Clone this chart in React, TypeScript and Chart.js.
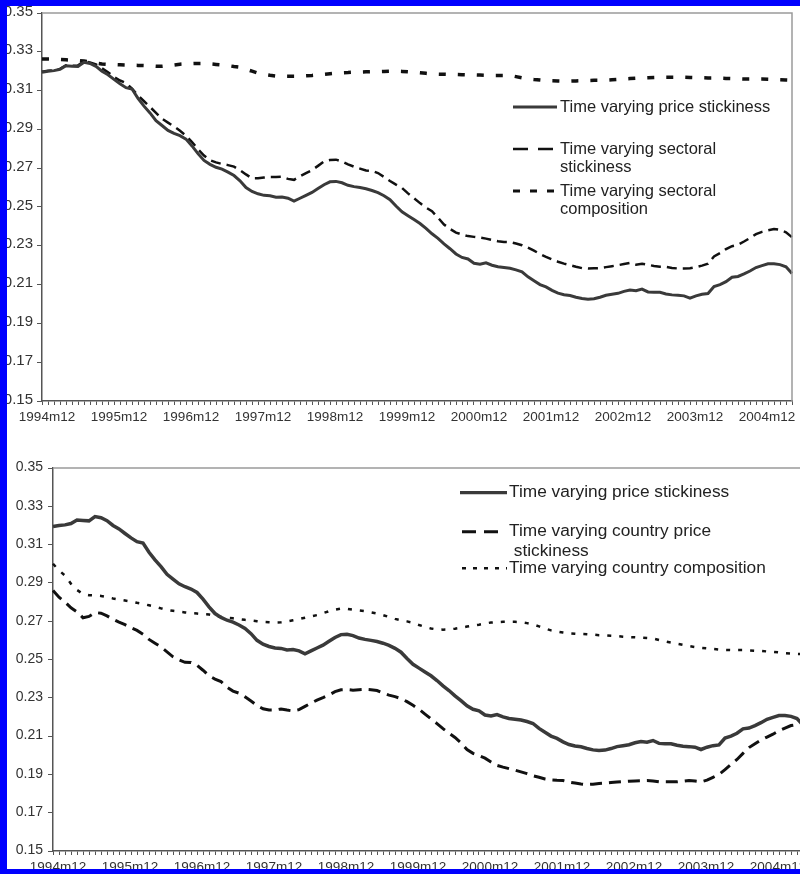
import React, { useEffect, useRef } from "react";
import { Chart, registerables } from "chart.js";

Chart.register(...registerables);

// ---------- data ----------
const START_YEAR = 1994;
const START_MONTH = 12;
const N_MONTHS = 126;
const MONTHS: string[] = (() => {
  const out: string[] = [];
  let y = START_YEAR;
  let m = START_MONTH;
  for (let k = 0; k < N_MONTHS; k++) {
    out.push(`${y}m${m}`);
    m++;
    if (m > 12) { m = 1; y++; }
  }
  return out;
})();

const Y_TICKS = [0.15, 0.17, 0.19, 0.21, 0.23, 0.25, 0.27, 0.29, 0.31, 0.33, 0.35];

const PRICE_STICKINESS = [
  0.3195, 0.3200, 0.3203, 0.3210, 0.3228, 0.3226, 0.3224, 0.3246, 0.3240, 0.3225,
  0.3200, 0.3182, 0.3158, 0.3135, 0.3115, 0.3108, 0.3060, 0.3020, 0.2985, 0.2945,
  0.2920, 0.2895, 0.2880, 0.2868, 0.2850, 0.2815, 0.2775, 0.2740, 0.2720, 0.2705,
  0.2695, 0.2680, 0.2662, 0.2635, 0.2600, 0.2580, 0.2568, 0.2560, 0.2558, 0.2550,
  0.2552, 0.2545, 0.2530, 0.2545, 0.2560, 0.2575, 0.2595, 0.2615, 0.2630, 0.2632,
  0.2625, 0.2612, 0.2605, 0.2600, 0.2594, 0.2585, 0.2574, 0.2558, 0.2538, 0.2505,
  0.2475, 0.2455, 0.2435, 0.2415, 0.2390, 0.2362, 0.2338, 0.2310, 0.2285, 0.2258,
  0.2240, 0.2232, 0.2210, 0.2205, 0.2212, 0.2200, 0.2192, 0.2188, 0.2184, 0.2176,
  0.2166, 0.2140, 0.2120, 0.2100, 0.2088, 0.2070, 0.2056, 0.2048, 0.2044, 0.2035,
  0.2028, 0.2025, 0.2027, 0.2035, 0.2045, 0.2050, 0.2055, 0.2065, 0.2072, 0.2068,
  0.2077, 0.2062, 0.2060, 0.2060, 0.2052, 0.2047, 0.2045, 0.2042, 0.2030, 0.2042,
  0.2050, 0.2054, 0.2090, 0.2100, 0.2115, 0.2138, 0.2142, 0.2155, 0.2170, 0.2188,
  0.2198, 0.2207, 0.2208, 0.2203, 0.2192, 0.2157,
];

const SECTORAL_STICKINESS = [
  0.3197, 0.3202, 0.3205, 0.3212, 0.3230, 0.3228, 0.3230, 0.3250, 0.3245, 0.3235,
  0.3215, 0.3195, 0.3170, 0.3152, 0.3139, 0.3110, 0.3075, 0.3045, 0.3016, 0.2985,
  0.2955, 0.2935, 0.2915, 0.2893, 0.2868, 0.2835, 0.2798, 0.2765, 0.2741, 0.2730,
  0.2722, 0.2716, 0.2708, 0.2690, 0.2668, 0.2648, 0.2648, 0.2652, 0.2655, 0.2655,
  0.2656, 0.2645, 0.2640, 0.2658, 0.2675, 0.2690, 0.2712, 0.2735, 0.2742, 0.2744,
  0.2735, 0.2720, 0.2708, 0.2698, 0.2688, 0.2686, 0.2675, 0.2655, 0.2634, 0.2615,
  0.2598, 0.2570, 0.2545, 0.2520, 0.2497, 0.2478, 0.2445, 0.2410, 0.2387, 0.2368,
  0.2358, 0.2350, 0.2346, 0.2342, 0.2337, 0.2330, 0.2323, 0.2320, 0.2319, 0.2312,
  0.2303, 0.2290, 0.2275, 0.2258, 0.2243, 0.2230, 0.2218, 0.2208, 0.2200, 0.2192,
  0.2185, 0.2183, 0.2184, 0.2185, 0.2190, 0.2195, 0.2200, 0.2206, 0.2212, 0.2203,
  0.2208, 0.2202, 0.2196, 0.2192, 0.2191, 0.2186, 0.2183, 0.2183, 0.2184, 0.2190,
  0.2198, 0.2208, 0.2245, 0.2262, 0.2283, 0.2298, 0.2305, 0.2322, 0.2340, 0.2360,
  0.2372, 0.2380, 0.2387, 0.2382, 0.2370, 0.2344,
];

const SECTORAL_COMPOSITION = [
  0.3263, 0.3263, 0.3262, 0.3261, 0.3259, 0.3257, 0.3255, 0.3252, 0.3248, 0.3242,
  0.3237, 0.3235, 0.3234, 0.3233, 0.3232, 0.3231, 0.3230, 0.3229, 0.3228, 0.3226,
  0.3225, 0.3228, 0.3232, 0.3236, 0.3238, 0.3239, 0.3240, 0.3240, 0.3238, 0.3235,
  0.3232, 0.3229, 0.3224, 0.3220, 0.3210, 0.3200, 0.3190, 0.3184, 0.3179, 0.3175,
  0.3174, 0.3174, 0.3174, 0.3174, 0.3176, 0.3178, 0.3181, 0.3184, 0.3187, 0.3190,
  0.3192, 0.3193, 0.3195, 0.3196, 0.3197, 0.3198, 0.3198, 0.3199, 0.3200, 0.3200,
  0.3199, 0.3197, 0.3195, 0.3192, 0.3189, 0.3186, 0.3185, 0.3184, 0.3183, 0.3183,
  0.3182, 0.3181, 0.3181, 0.3180, 0.3179, 0.3178, 0.3178, 0.3178, 0.3178, 0.3172,
  0.3166, 0.3160, 0.3157, 0.3155, 0.3152, 0.3151, 0.3150, 0.3149, 0.3149, 0.3150,
  0.3151, 0.3152, 0.3153, 0.3153, 0.3154, 0.3156, 0.3158, 0.3160, 0.3162, 0.3164,
  0.3165, 0.3166, 0.3167, 0.3168, 0.3169, 0.3169, 0.3169, 0.3169, 0.3168, 0.3167,
  0.3166, 0.3165, 0.3165, 0.3164, 0.3163, 0.3162, 0.3161, 0.3160, 0.3160, 0.3160,
  0.3160, 0.3159, 0.3158, 0.3156, 0.3155, 0.3154,
];

const COUNTRY_STICKINESS = [
  0.2860, 0.2825, 0.2800, 0.2770, 0.2749, 0.2718, 0.2725, 0.2745, 0.2742, 0.2728,
  0.2710, 0.2695, 0.2682, 0.2666, 0.2652, 0.2632, 0.2605, 0.2585, 0.2565, 0.2540,
  0.2514, 0.2498, 0.2485, 0.2484, 0.2470, 0.2444, 0.2415, 0.2398, 0.2385, 0.2355,
  0.2335, 0.2324, 0.2305, 0.2283, 0.2260, 0.2243, 0.2236, 0.2236, 0.2242, 0.2236,
  0.2231, 0.2238, 0.2255, 0.2272, 0.2288, 0.2301, 0.2315, 0.2332, 0.2342, 0.2343,
  0.2340, 0.2342, 0.2344, 0.2342, 0.2338, 0.2325, 0.2314, 0.2306, 0.2296, 0.2280,
  0.2261, 0.2240, 0.2215, 0.2190, 0.2165, 0.2139, 0.2115, 0.2093, 0.2065, 0.2030,
  0.2010, 0.1998, 0.1985, 0.1965, 0.1947, 0.1938, 0.1930, 0.1922, 0.1913, 0.1904,
  0.1893, 0.1885, 0.1876, 0.1871, 0.1869, 0.1868, 0.1860, 0.1855, 0.1850, 0.1847,
  0.1849, 0.1853, 0.1855, 0.1858, 0.1860, 0.1862, 0.1864, 0.1866, 0.1867, 0.1868,
  0.1865, 0.1861, 0.1861, 0.1861, 0.1861, 0.1864, 0.1868, 0.1865, 0.1861, 0.1870,
  0.1885, 0.1900, 0.1925, 0.1952, 0.1978, 0.2010, 0.2040, 0.2060, 0.2080, 0.2095,
  0.2110, 0.2128, 0.2142, 0.2155, 0.2160, 0.2165,
];

const COUNTRY_COMPOSITION = [
  0.3000, 0.2965, 0.2938, 0.2895, 0.2863, 0.2842, 0.2836, 0.2834, 0.2832, 0.2826,
  0.2819, 0.2813, 0.2808, 0.2803, 0.2796, 0.2790, 0.2783, 0.2776, 0.2767, 0.2758,
  0.2754, 0.2750, 0.2746, 0.2742, 0.2740, 0.2737, 0.2735, 0.2728, 0.2722, 0.2718,
  0.2715, 0.2711, 0.2707, 0.2704, 0.2700, 0.2697, 0.2695, 0.2693, 0.2694, 0.2699,
  0.2705, 0.2711, 0.2718, 0.2725, 0.2732, 0.2742, 0.2752, 0.2760, 0.2766, 0.2765,
  0.2760, 0.2756, 0.2752, 0.2746, 0.2740, 0.2732, 0.2722, 0.2712, 0.2705, 0.2699,
  0.2692, 0.2680, 0.2670, 0.2662, 0.2657, 0.2656, 0.2657, 0.2661, 0.2666, 0.2672,
  0.2677, 0.2682, 0.2688, 0.2693, 0.2695, 0.2697, 0.2697, 0.2697, 0.2695, 0.2690,
  0.2683, 0.2673, 0.2662, 0.2652, 0.2646, 0.2641, 0.2637, 0.2635, 0.2633, 0.2632,
  0.2630, 0.2627, 0.2626, 0.2624, 0.2622, 0.2619, 0.2617, 0.2616, 0.2614, 0.2612,
  0.2610, 0.2602, 0.2594, 0.2588, 0.2582, 0.2576, 0.2570, 0.2565, 0.2561, 0.2558,
  0.2555, 0.2552, 0.2550, 0.2549, 0.2549, 0.2549, 0.2548, 0.2546, 0.2545, 0.2542,
  0.2540, 0.2537, 0.2533, 0.2531, 0.2529, 0.2528,
];

const TOP_LEGEND = [
  ["Time varying price stickiness"],
  ["Time varying sectoral", "stickiness"],
  ["Time varying sectoral", "composition"],
];
const BOTTOM_LEGEND = [
  ["Time varying price stickiness"],
  ["Time varying country price", " stickiness"],
  ["Time varying country composition"],
];

// ---------- plugins ----------
const FONT = '"Liberation Sans", Arial, Helvetica, sans-serif';

const legendPlugin = {
  id: "boxLegend",
  afterDraw(chart: any, _args: any, opts: any) {
    const ctx = chart.ctx;
    ctx.save();
    ctx.font = `${opts.fontSize}px ${FONT}`;
    ctx.fillStyle = opts.textColor;
    ctx.textBaseline = "middle";
    ctx.textAlign = "left";
    const items = opts.items;
    for (let k = 0; k < items.length; k++) {
      const it = items[k];
      const ds = chart.data.datasets[k];
      ctx.beginPath();
      ctx.setLineDash(it.dash ? [...it.dash] : []);
      ctx.lineWidth = it.width;
      ctx.strokeStyle = ds.borderColor;
      ctx.moveTo(it.x1, it.y);
      ctx.lineTo(it.x2, it.y);
      ctx.stroke();
      const lines = ds.legendLines;
      for (let j = 0; j < lines.length; j++) {
        ctx.fillText(lines[j], it.tx, it.y + j * opts.lineGap);
      }
    }
    ctx.restore();
  },
};

const framePlugin = {
  id: "frame",
  afterDraw(chart: any, _args: any, opts: any) {
    const { ctx, chartArea } = chart;
    ctx.save();
    ctx.setLineDash([]);
    ctx.strokeStyle = opts.color;
    ctx.lineWidth = opts.width;
    ctx.beginPath();
    ctx.moveTo(chartArea.left, chartArea.top);
    ctx.lineTo(chartArea.right, chartArea.top);
    ctx.lineTo(chartArea.right, chartArea.bottom);
    ctx.stroke();
    ctx.restore();
  },
};

function makeConfig(g: any) {
  return {
    type: "line",
    data: {
      labels: MONTHS,
      datasets: g.datasets,
    },
    options: {
      animation: false,
      responsive: false,
      devicePixelRatio: 1,
      layout: { padding: g.padding },
      elements: { point: { radius: 0 }, line: { tension: 0, borderCapStyle: "butt" } },
      scales: {
        x: {
          type: "category",
          offset: false,
          afterFit: (s: any) => { s.height = g.xHeight; },
          grid: {
            display: true,
            drawOnChartArea: false,
            drawTicks: true,
            tickLength: 4,
            color: "#555",
            lineWidth: 1,
          },
          border: { display: true, color: "#555", width: 1.5 },
          ticks: {
            autoSkip: false,
            maxRotation: 0,
            minRotation: 0,
            padding: 4,
            labelOffset: 5,
            color: "#333",
            font: { family: FONT, size: 13.5 },
            callback: (_v: any, i: number) => (i % 12 === 0 ? MONTHS[i] : ""),
          },
        },
        y: {
          min: 0.15,
          max: 0.35,
          afterFit: (s: any) => { s.width = g.yWidth; },
          afterBuildTicks: (s: any) => { s.ticks = Y_TICKS.map((v) => ({ value: v })); },
          grid: {
            display: true,
            drawOnChartArea: false,
            drawTicks: true,
            tickLength: 5,
            color: "#555",
            lineWidth: 1,
          },
          border: { display: true, color: "#555", width: 1.5 },
          ticks: {
            padding: g.yPad,
            labelOffset: g.yLabelOffset,
            color: "#333",
            font: { family: FONT, size: g.yFont },
            callback: (v: any) => Number(v).toFixed(2),
          },
        },
      },
      plugins: {
        legend: { display: false },
        tooltip: { enabled: false },
        boxLegend: g.legend,
        frame: { color: "#9a9a9a", width: 1.5 },
      },
    },
    plugins: [legendPlugin, framePlugin],
  };
}

function ChartCanvas({ config, width, height, style }: any) {
  const ref = useRef<HTMLCanvasElement | null>(null);
  useEffect(() => {
    if (!ref.current) return;
    const chart = new Chart(ref.current, config);
    return () => chart.destroy();
  }, []);
  return <canvas ref={ref} width={width} height={height} style={{ position: "absolute", width, height, ...style }} />;
}

export default function App() {
  const topConfig = makeConfig({
    padding: { top: 9, right: 8, left: 0, bottom: 0 },
    yWidth: 42,
    xHeight: 29,
    yFont: 15,
    yPad: 4,
    yLabelOffset: -1.5,
    datasets: [
      {
        label: TOP_LEGEND[0].join(" "),
        legendLines: TOP_LEGEND[0],
        data: PRICE_STICKINESS,
        borderColor: "#3a3a3a",
        borderWidth: 3,
        borderDash: [],
      },
      {
        label: TOP_LEGEND[1].join(" "),
        legendLines: TOP_LEGEND[1],
        data: SECTORAL_STICKINESS,
        borderColor: "#111111",
        borderWidth: 2.5,
        borderDash: [10, 6],
      },
      {
        label: TOP_LEGEND[2].join(" "),
        legendLines: TOP_LEGEND[2],
        data: SECTORAL_COMPOSITION,
        borderColor: "#111111",
        borderWidth: 3.5,
        borderDash: [7, 12],
      },
    ],
    legend: {
      fontSize: 16.5,
      textColor: "#222",
      lineGap: 18,
      items: [
        { x1: 513, x2: 557, y: 107, tx: 560, width: 2.8, dash: [] },
        { x1: 513, x2: 555, y: 149, tx: 560, width: 2.5, dash: [15, 10] },
        { x1: 513, x2: 557, y: 191, tx: 560, width: 3, dash: [7, 10] },
      ],
    },
  });

  const bottomConfig = makeConfig({
    padding: { top: 28, right: 9, left: 0, bottom: 0 },
    yWidth: 53,
    xHeight: 30,
    yFont: 14,
    yPad: 5,
    yLabelOffset: -0.5,
    datasets: [
      {
        label: BOTTOM_LEGEND[0].join(" "),
        legendLines: BOTTOM_LEGEND[0],
        data: PRICE_STICKINESS,
        borderColor: "#3a3a3a",
        borderWidth: 3.5,
        borderDash: [],
      },
      {
        label: BOTTOM_LEGEND[1].join(" "),
        legendLines: BOTTOM_LEGEND[1],
        data: COUNTRY_STICKINESS,
        borderColor: "#111111",
        borderWidth: 3,
        borderDash: [12, 7],
      },
      {
        label: BOTTOM_LEGEND[2].join(" "),
        legendLines: BOTTOM_LEGEND[2],
        data: COUNTRY_COMPOSITION,
        borderColor: "#111111",
        borderWidth: 2.5,
        borderDash: [4, 8],
      },
    ],
    legend: {
      fontSize: 17.3,
      textColor: "#222",
      lineGap: 20,
      items: [
        { x1: 460, x2: 507, y: 52.7, tx: 509, width: 3.3, dash: [] },
        { x1: 462, x2: 503, y: 91.7, tx: 509, width: 3, dash: [14, 8] },
        { x1: 462, x2: 507, y: 128.3, tx: 509, width: 2.5, dash: [4, 7] },
      ],
    },
  });

  return (
    <div
      style={{
        position: "fixed",
        left: 0,
        top: 0,
        width: 800,
        height: 874,
        overflow: "hidden",
        background: "#ffffff",
      }}
    >
      <ChartCanvas config={topConfig} width={800} height={430} style={{ left: 0, top: 0 }} />
      <ChartCanvas config={bottomConfig} width={812} height={441} style={{ left: 0, top: 440 }} />
      <div style={{ position: "absolute", left: 0, top: 0, width: 800, height: 6, background: "#0000ff" }} />
      <div style={{ position: "absolute", left: 0, top: 0, width: 7, height: 874, background: "#0000ff" }} />
      <div style={{ position: "absolute", left: 0, top: 869, width: 800, height: 5, background: "#0000ff" }} />
    </div>
  );
}
